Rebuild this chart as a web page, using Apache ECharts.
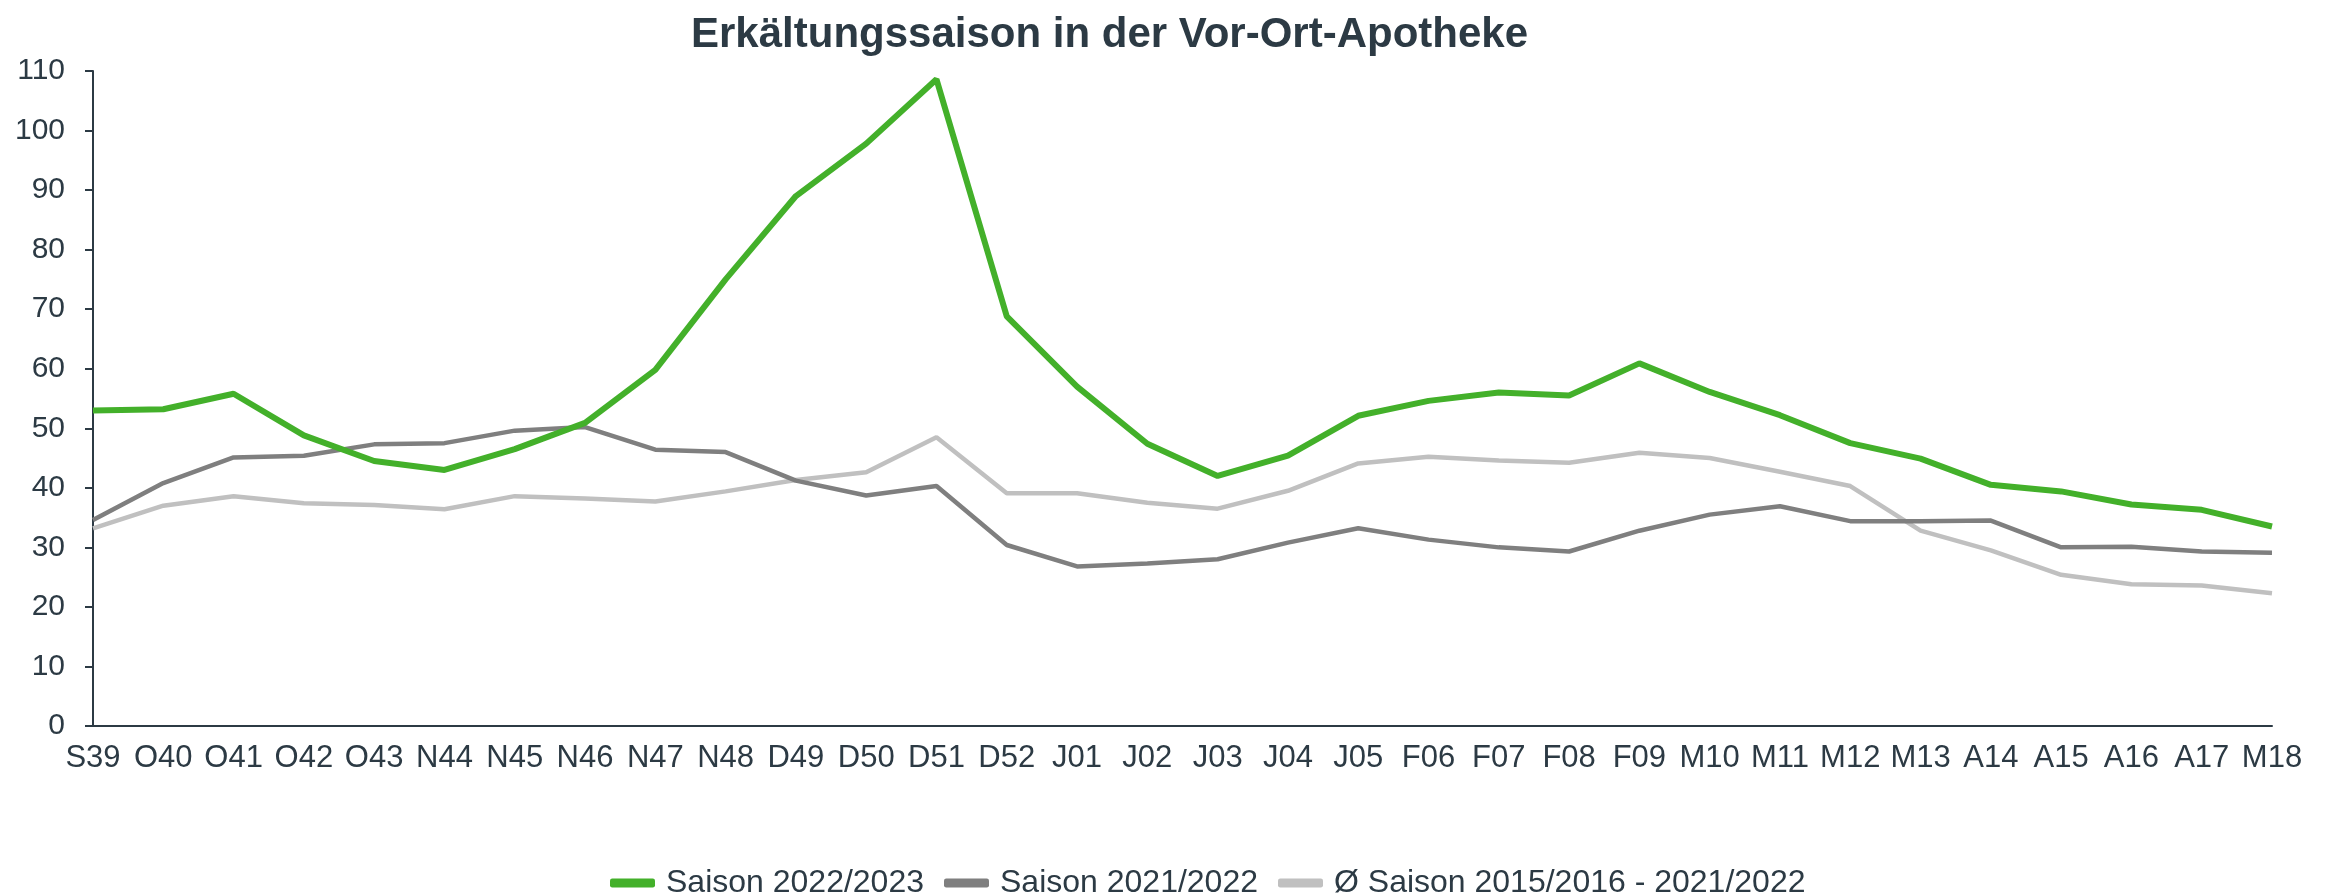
<!DOCTYPE html>
<html>
<head>
<meta charset="utf-8">
<title>Erkältungssaison</title>
<script src="https://cdn.jsdelivr.net/npm/echarts@6/dist/echarts.min.js"></script>
<style>
  html, body { margin: 0; padding: 0; background: #fff; }
  #chart { width: 2328px; height: 894px; }
</style>
</head>
<body>
<div id="chart"></div>
<script>
// Kalenderwochen (Monat + KW)
var weeks = ['S39', 'O40', 'O41', 'O42', 'O43', 'N44', 'N45', 'N46', 'N47', 'N48',
  'D49', 'D50', 'D51', 'D52', 'J01', 'J02', 'J03', 'J04', 'J05', 'F06',
  'F07', 'F08', 'F09', 'M10', 'M11', 'M12', 'M13', 'A14', 'A15', 'A16', 'A17', 'M18'];

var saison2223 = [53.0, 53.2, 55.8, 48.8, 44.5, 43.0, 46.5, 50.9, 59.8, 75.0,
  89.0, 97.8, 108.6, 68.8, 57.0, 47.4, 42.0, 45.4, 52.1, 54.6,
  56.0, 55.5, 60.9, 56.1, 52.2, 47.5, 44.9, 40.5, 39.4, 37.2, 36.3, 33.5];

var saison2122 = [34.6, 40.8, 45.1, 45.4, 47.3, 47.5, 49.6, 50.2, 46.4, 46.0,
  41.2, 38.7, 40.3, 30.4, 26.8, 27.3, 28.0, 30.8, 33.2, 31.3,
  30.0, 29.3, 32.8, 35.5, 36.9, 34.4, 34.4, 34.5, 30.0, 30.1, 29.3, 29.1];

var saisonMittel = [33.2, 37.0, 38.6, 37.4, 37.1, 36.4, 38.6, 38.2, 37.7, 39.4,
  41.3, 42.6, 48.5, 39.1, 39.1, 37.5, 36.5, 39.5, 44.1, 45.2,
  44.6, 44.2, 45.9, 45.0, 42.7, 40.3, 32.8, 29.5, 25.4, 23.8, 23.6, 22.3];

var seriesNames = ['Saison 2022/2023', 'Saison 2021/2022', 'Ø Saison 2015/2016 - 2021/2022'];
var yTicks = { min: 0, max: 110, step: 10 };

var textColor = '#2c3a44';
var font = 'Liberation Sans, Arial, Helvetica, sans-serif';

var chart = echarts.init(document.getElementById('chart'));

var option = {
  backgroundColor: '#ffffff',
  animation: false,
  title: {
    text: 'Erkältungssaison in der Vor-Ort-Apotheke',
    left: 686,
    top: 9,
    textStyle: {
      color: textColor,
      fontFamily: font,
      fontWeight: 'bold',
      fontSize: 42
    }
  },
  color: ['#43b02a', '#7f7f7f', '#c0c0c0'],
  legend: {
    left: 605,
    top: 862,
    icon: 'roundRect',
    itemWidth: 45,
    itemHeight: 9,
    itemGap: 20,
    textStyle: {
      color: textColor,
      fontFamily: font,
      fontSize: 32,
      padding: [0, 0, 0, 6]
    },
    data: seriesNames
  },
  grid: {
    left: 93,
    right: 56,
    top: 71,
    bottom: 168,
    containLabel: false
  },
  xAxis: {
    type: 'category',
    boundaryGap: false,
    data: weeks,
    axisLine: { lineStyle: { color: textColor, width: 2 } },
    axisTick: { show: false },
    axisLabel: {
      interval: 0,
      margin: 17,
      color: textColor,
      fontFamily: font,
      fontSize: 31
    },
    splitLine: { show: false }
  },
  yAxis: {
    type: 'value',
    min: yTicks.min,
    max: yTicks.max,
    interval: yTicks.step,
    axisLine: { show: true, lineStyle: { color: textColor, width: 2 } },
    axisTick: { show: true, length: 8, lineStyle: { color: textColor, width: 2 } },
    axisLabel: {
      margin: 28,
      color: textColor,
      fontFamily: font,
      fontSize: 30
    },
    splitLine: { show: false }
  },
  series: [
    {
      name: seriesNames[0],
      type: 'line',
      data: saison2223,
      showSymbol: false,
      z: 4,
      lineStyle: { width: 6, color: '#43b02a' }
    },
    {
      name: seriesNames[1],
      type: 'line',
      data: saison2122,
      showSymbol: false,
      z: 3,
      lineStyle: { width: 4.5, color: '#7f7f7f' }
    },
    {
      name: seriesNames[2],
      type: 'line',
      data: saisonMittel,
      showSymbol: false,
      z: 2,
      lineStyle: { width: 4.5, color: '#c0c0c0' }
    }
  ]
};

chart.setOption(option);
</script>
</body>
</html>
